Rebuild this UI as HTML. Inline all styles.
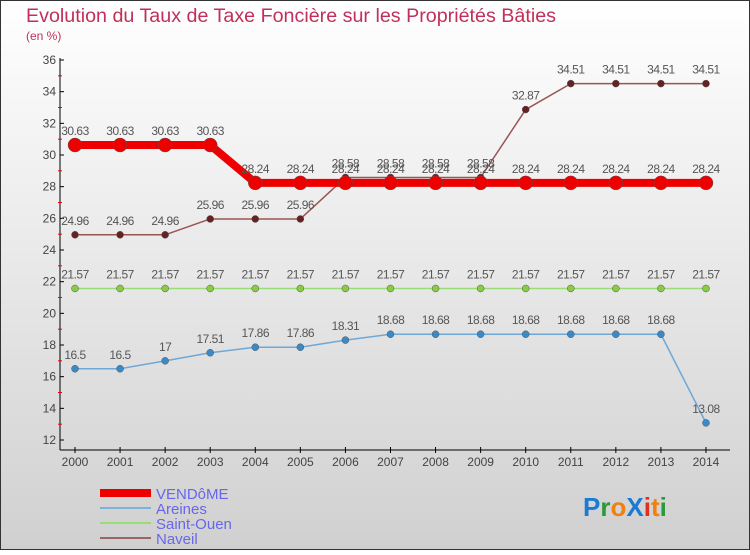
<!DOCTYPE html>
<html><head><meta charset="utf-8"><style>
body{margin:0;width:750px;height:550px;overflow:hidden;font-family:"Liberation Sans",sans-serif}
</style></head><body>
<svg id="c" width="750" height="550" xmlns="http://www.w3.org/2000/svg">
<defs><linearGradient id="bg" x1="0" y1="0" x2="0" y2="1"><stop offset="0" stop-color="#ffffff"/><stop offset="1" stop-color="#d0d0d0"/></linearGradient></defs>
<rect x="0.5" y="0.5" width="749" height="549" fill="url(#bg)" stroke="#333"/>
<text x="26" y="22" font-size="19" fill="#c0305a" textLength="530" lengthAdjust="spacingAndGlyphs">Evolution du Taux de Taxe Foncière sur les Propriétés Bâties</text>
<text x="26" y="40" font-size="12" fill="#c0305a">(en %)</text>
<g id="axes"></g><g id="series"></g>
<g font-size="15" fill="#6666ee">
<rect x="100" y="489" width="51" height="8" fill="#e00"/><text x="156" y="499">VENDôME</text>
<rect x="100" y="507" width="51" height="2" fill="#7fb2d8"/><text x="156" y="514">Areines</text>
<rect x="100" y="522" width="51" height="2" fill="#99dd77"/><text x="156" y="529">Saint-Ouen</text>
<rect x="100" y="537" width="51" height="2" fill="#996666"/><text x="156" y="544">Naveil</text>
</g>
<text x="583" y="516" font-size="26" font-weight="bold"><tspan fill="#1a7ad4">P</tspan><tspan fill="#2a9a3a">r</tspan><tspan fill="#f08010">o</tspan><tspan fill="#1a7ad4">X</tspan><tspan fill="#e03020">i</tspan><tspan fill="#f08010">t</tspan><tspan fill="#2a9a3a">i</tspan></text>
</svg>
<script>
const years=[2000,2001,2002,2003,2004,2005,2006,2007,2008,2009,2010,2011,2012,2013,2014];
const vendome=[30.63,30.63,30.63,30.63,28.24,28.24,28.24,28.24,28.24,28.24,28.24,28.24,28.24,28.24,28.24];
const areines=[16.5,16.5,17,17.51,17.86,17.86,18.31,18.68,18.68,18.68,18.68,18.68,18.68,18.68,13.08];
const saintOuen=[21.57,21.57,21.57,21.57,21.57,21.57,21.57,21.57,21.57,21.57,21.57,21.57,21.57,21.57,21.57];
const naveil=[24.96,24.96,24.96,25.96,25.96,25.96,28.58,28.58,28.58,28.58,32.87,34.51,34.51,34.51,34.51];
const yTicks=[12,14,16,18,20,22,24,26,28,30,32,34,36];
const NS="http://www.w3.org/2000/svg";
const xS=i=>75+i*45.07, yS=v=>440-(v-12)*380/24;
function mk(t,a,p){const e=document.createElementNS(NS,t);for(const k in a)e.setAttribute(k,a[k]);p.appendChild(e);return e;}
const ax=document.getElementById('axes');
let l=mk('line',{x1:60,y1:58,x2:60,y2:450,stroke:'#000'},ax);

l=mk('line',{x1:60,y1:450,x2:730,y2:450,stroke:'#000'},ax);

yTicks.forEach(v=>{const y=yS(v);
mk('line',{x1:60,y1:y,x2:64,y2:y,stroke:'#000'},ax);
mk('line',{x1:58,y1:yS(v+1),x2:62,y2:yS(v+1),stroke:'#e00'},ax).setAttribute('opacity',v<36?1:0);
const t=mk('text',{x:56,y:y+4,'font-size':12,fill:'#444','text-anchor':'end'},ax);t.textContent=v;
});
years.forEach((yr,i)=>{const x=xS(i);mk('line',{x1:x,y1:447,x2:x,y2:453,stroke:'#000'},ax);
const t=mk('text',{x:x,y:466,'font-size':12,fill:'#444','text-anchor':'middle'},ax);t.textContent=yr;
});
const sg=document.getElementById('series');
function series(name,vals,col,w,r,dot){
const g=mk('g',{},sg);
mk('polyline',{points:vals.map((v,i)=>xS(i)+','+yS(v)).join(' '),fill:'none',stroke:col,'stroke-width':w,'stroke-linejoin':'round'},g);
vals.forEach((v,i)=>{const c=mk('circle',{cx:xS(i),cy:yS(v),r:r,fill:dot,stroke:'#555','stroke-width':0.5},g);

const t=mk('text',{x:xS(i),y:yS(v)-10,'font-size':12,fill:'#555','text-anchor':'middle','letter-spacing':'-0.5'},g);t.textContent=v;
});}
series('areines',areines,'#6fa8d6',1.5,3.5,'#3a8ac8');
series('saint-ouen',saintOuen,'#99dd77',1.5,3.5,'#88cc44');
series('naveil',naveil,'#995555',1.5,3.5,'#662222');
series('vendome',vendome,'#ee0000',8,7,'#ee0000');
</script>
</body></html>
